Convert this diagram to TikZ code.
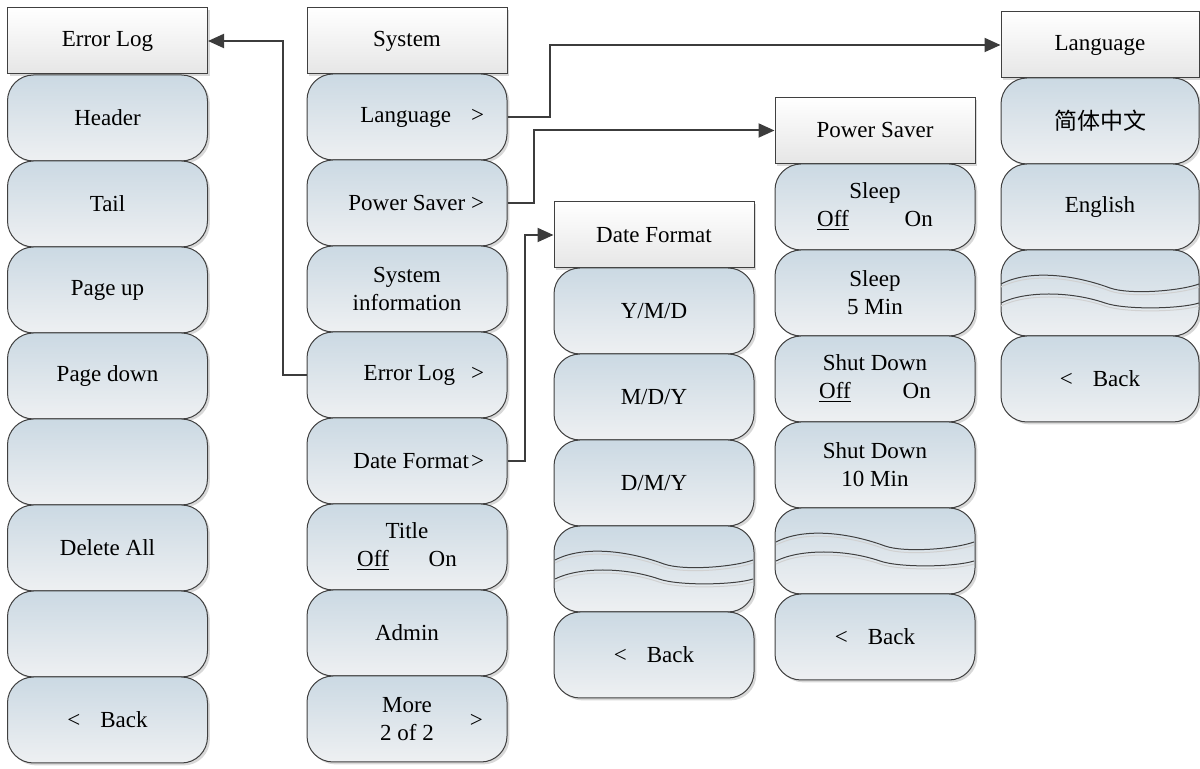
\documentclass[tikz,border=0pt]{standalone}
\usepackage{fontspec}
\setmainfont{Liberation Serif}
\newfontfamily\cjk{Noto Sans CJK SC}
\usepackage{tikz}
\usetikzlibrary{
  arrows.meta,
  positioning,
  shadows,
}
\definecolor{btnTop}{HTML}{CBD9E3}
\definecolor{btnBot}{HTML}{EEF0F2}
\definecolor{hdrBot}{HTML}{E6E6E6}
\definecolor{edgegray}{HTML}{404040}
\definecolor{wiregray}{HTML}{3C3C3C}
\tikzset{
  menuhdr/.style={
    rectangle, draw=edgegray, line width=0.5pt,
    top color=white, bottom color=hdrBot,
    minimum width=100pt, minimum height=33pt, inner sep=0pt,
    drop shadow={shadow xshift=1.2pt, shadow yshift=-1.2pt, fill=black!30, opacity=0.5},
    font=\fontsize{11.5}{14}\selectfont,
  },
  menubtn/.style={
    rectangle, rounded corners=13pt, draw=edgegray, line width=0.5pt,
    top color=btnTop, bottom color=btnBot,
    minimum width=100pt, minimum height=43pt, inner sep=0pt,
    align=center, font=\fontsize{11.5}{14}\selectfont,
    drop shadow={shadow xshift=1.2pt, shadow yshift=-1.2pt, fill=black!30, opacity=0.5},
  },
  conn/.style={
    -{Triangle[length=8pt,width=7pt]}, line width=1pt, draw=wiregray,
  },
}
% key text that ends in a ">" at the right
\newcommand{\nextkey}[1]{\makebox[77pt][r]{#1}}
% two torn lines across an empty key
\newcommand{\tornlines}[1]{%
  \begin{scope}[shift={(#1.center)}]
    \foreach \dy/\clr in {3/black!18, 0/edgegray}
    {
      \begin{scope}[shift={(0,\dy)}]
        \draw[\clr, line width=0.5pt] (-99,-9) .. controls (-70,-24) and (-25,-18) .. (10,-5)
          .. controls (30,2) and (80,-2) .. (99,-9);
        \draw[\clr, line width=0.5pt] (-99,10) .. controls (-75,-2) and (-30,-2) .. (5,10)
          .. controls (25,17) and (80,16) .. (99,10);
      \end{scope}
    }
  \end{scope}}

\begin{document}
\begin{tikzpicture}[x=0.5pt, y=-0.5pt]
\useasboundingbox (0,0) rectangle (1200,769);

% Error Log menu
\node[menuhdr] (elhdr) at (107.5,41) {Error Log};
\foreach \txt [count=\i] in {Header, Tail, Page up, Page down, {}, Delete All, {}, {<\hspace{10pt}Back}}
  \node[menubtn] (el\i) at (107.5, {32+\i*86}) {\txt};

% System menu
\node[menuhdr] (syshdr) at (407,41) {System};
\foreach \txt [count=\i] in {
    {\nextkey{Language\hspace{10pt}>}},
    {\nextkey{Power Saver >}},
    {System\\information},
    {\nextkey{Error Log\hspace{8pt}>}},
    {\nextkey{Date Format\hspace{1pt}>}},
    {Title\\\underline{Off}\hspace{20pt}On},
    {Admin},
    {More\\2 of 2\rlap{\hspace{18pt}\raisebox{6.5pt}{>}}}}
  \node[menubtn] (sys\i) at (407, {31+\i*86}) {\txt};

% Date Format menu
\node[menuhdr] (dfhdr) at (654,235) {Date Format};
\foreach \txt [count=\i] in {Y/M/D, M/D/Y, D/M/Y, {}, {<\hspace{10pt}Back}}
  \node[menubtn] (df\i) at (654, {225+\i*86}) {\txt};
\tornlines{df4}

% Power Saver menu
\node[menuhdr] (pshdr) at (875,130.5) {Power Saver};
\foreach \txt [count=\i] in {
    {Sleep\\\underline{Off}\hspace{28pt}On},
    {Sleep\\5 Min},
    {Shut Down\\\underline{Off}\hspace{26pt}On},
    {Shut Down\\10 Min},
    {},
    {<\hspace{10pt}Back}}
  \node[menubtn] (ps\i) at (875, {121+\i*86}) {\txt};
\tornlines{ps5}

% Language menu
\node[menuhdr, minimum width=99pt] (lghdr) at (1100,45) {Language};
\foreach \txt [count=\i] in {{\cjk 简体中文}, English, {}, {<\hspace{10pt}Back}}
  \node[menubtn, minimum width=99pt] (lg\i) at (1100, {35+\i*86}) {\txt};
\tornlines{lg3}

% links between menus
\draw[conn] (sys4.west) -- ++(-24,0) |- (elhdr.east);
\draw[conn] (sys1.east) -- ++(42,0) |- (lghdr.west);
\draw[conn] (sys2.east) -- ++(26,0) |- (pshdr.west);
\draw[conn] (sys5.east) -- ++(17,0) |- (dfhdr.west);

\end{tikzpicture}
\end{document}
